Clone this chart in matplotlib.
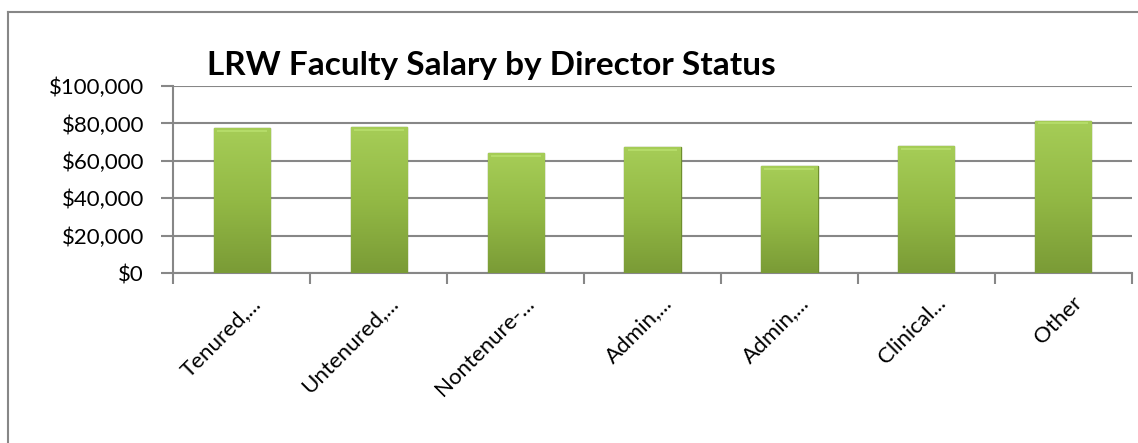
import numpy as np
import matplotlib
matplotlib.use('Agg')
import matplotlib.pyplot as plt
from matplotlib.ticker import FuncFormatter, FixedLocator
from matplotlib.transforms import ScaledTranslation
from matplotlib.lines import Line2D

# data
categories = ['Tenured,...', 'Untenured,...', 'Nontenure-...', 'Admin,...',
              'Admin,...', 'Clinical...', 'Other']
salaries = [77300, 78000, 64000, 67200, 57200, 67900, 81500]
y_ticks = [0, 20000, 40000, 60000, 80000, 100000]
title = 'LRW Faculty Salary by Director Status'

plt.rcParams['font.family'] = ['Lato', 'DejaVu Sans']

fig = plt.figure(figsize=(11.38, 4.43), dpi=100)
ax = fig.add_axes([0.1523, 0.3837, 0.8422, 0.4221])

x = np.arange(len(categories))
bars = ax.bar(x, salaries, width=0.41, color='#95BC45', edgecolor='#6E8E2E',
              linewidth=1.0, zorder=3)

# vertical gradient inside each bar
grad = np.linspace(0, 1, 256).reshape(-1, 1)
cmap = matplotlib.colors.LinearSegmentedColormap.from_list(
    'g', ['#7A9B36', '#93B945', '#A6CD57'])
for b in bars:
    x0, w, h = b.get_x(), b.get_width(), b.get_height()
    im = ax.imshow(grad, cmap=cmap, aspect='auto', origin='lower',
                   extent=(x0, x0 + w, 0, h), zorder=3)
    im.set_clip_path(b)
    ax.add_line(Line2D([x0 + 0.03, x0 + w - 0.03], [h - 1500, h - 1500],
                       color='#B4DB68', lw=1.5, zorder=4))

ax.set_xlim(-0.5, len(categories) - 0.5)
ax.set_ylim(0, 100000)

grey = '#878787'
ax.yaxis.set_major_locator(FixedLocator(y_ticks))
ax.yaxis.set_major_formatter(FuncFormatter(lambda v, p: '${:,.0f}'.format(v)))
ax.yaxis.grid(True, color=grey, linewidth=1.5, zorder=0)
ax.set_axisbelow(True)

ax.set_xticks(x)
ax.set_xticklabels(categories, rotation=45, ha='right', va='center',
                   rotation_mode='anchor', fontsize=16)
ax.set_xticks(np.arange(len(categories) + 1) - 0.5, minor=True)
ax.tick_params(axis='x', which='major', length=0, pad=0)
ax.tick_params(axis='x', which='minor', length=8, width=1.5, color=grey,
               direction='out')
ax.tick_params(axis='y', length=9, width=1.5, color=grey, direction='out',
               labelsize=16, pad=12)
for lbl in ax.get_xticklabels():
    lbl.set_transform(lbl.get_transform() +
                      ScaledTranslation(16 / 100, -27 / 100, fig.dpi_scale_trans))

for s in ['top', 'right']:
    ax.spines[s].set_visible(False)
for s in ['left', 'bottom']:
    ax.spines[s].set_color(grey)
    ax.spines[s].set_linewidth(1.5)

fig.text(491 / 1138, 1 - 65 / 443, title, ha='center', va='center',
         fontsize=24, fontweight='bold')

# outer chart frame (only top and left visible in the crop)
fig.add_artist(Line2D([7.5 / 1138, 7.5 / 1138], [0, 1 - 12 / 443],
                      transform=fig.transFigure, color=grey, lw=1.5))
fig.add_artist(Line2D([7.5 / 1138, 1], [1 - 12 / 443, 1 - 12 / 443],
                      transform=fig.transFigure, color=grey, lw=1.5))

fig.savefig('out.png', dpi=100)
